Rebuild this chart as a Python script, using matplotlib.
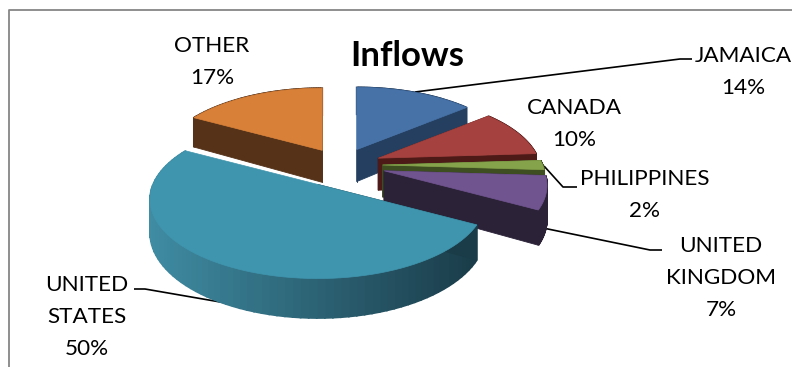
"""Exploded 3D style pie of remittance inflows, drawn by hand since matplotlib has no 3D pie."""

import numpy as np
import matplotlib
matplotlib.use('Agg')
import matplotlib.pyplot as plt
from matplotlib.colors import to_rgb

# data
categories = ['JAMAICA', 'CANADA', 'PHILIPPINES', 'UNITED\nKINGDOM', 'UNITED\nSTATES', 'OTHER']
shares = [14, 10, 2, 7, 50, 17]

# styling, same order as categories
top_colors = ['#4672A8', '#A5423F', '#85A34A', '#70548F', '#3F95AE', '#D98038']
wall_colors = ['#243F60', '#4D1A18', '#3E4E21', '#2B2238', None, '#553218']
explode = [0.23, 0.25, 0.26, 0.28, 0.30, 0.23]
radius_scale = [1.0, 1.0, 1.0, 1.0, 1.03, 1.0]
draw_order = [5, 0, 1, 2, 3, 4]

# pixel layout of the label block: centre x, y of first line
label_pos = [(743, 56), (574, 108), (645, 179), (721, 246), (87, 285), (212, 46)]
leaders = [
    [(692, 59), (680, 59), (415, 92)],
    [(544, 166), (563, 187), (577, 187)],
    [(543, 228), (650, 250), (662, 250)],
    [(134, 289), (145, 289), (226, 303)],
]

CX, CY = 341, 165
RX, RY = 160, 74
PERSP = 0.19
DEPTH = 32
FONT = 'Lato'
LABEL_SIZE = 16.2
LINE_STEP = 32


def project(theta, scale=1.0):
    """Flat pie angle to pixel offset from the slice tip, back of the pie is further away."""
    u, v = np.cos(theta), np.sin(theta)
    s = 1 / (1 + PERSP * v)
    return RX * scale * u * s, -RY * scale * v * s, DEPTH * s


def draw_slice(ax, start, end, color, wall, scale, tip):
    thetas = np.linspace(start, end, 80)
    dx, dy, depth = project(thetas, scale)
    x = tip[0] + dx
    y = tip[1] + dy
    # outer wall in short strips, so the big slice can carry a gradient
    for i in range(len(x) - 1):
        if wall is None:
            t = np.clip((x[i] - 150) / 330, 0, 1)
            c = (1 - t) * np.array(to_rgb('#3F8CA3')) + t * np.array(to_rgb('#1A3B48'))
        else:
            c = wall
        ax.fill([x[i], x[i + 1], x[i + 1], x[i]],
                [y[i], y[i + 1], y[i + 1] + depth[i + 1], y[i] + depth[i]],
                color=c, lw=1.2, zorder=2)
    # cut faces
    cut = wall if wall is not None else '#1A3B48'
    for j in (0, -1):
        if wall is None and j == -1:
            continue  # the hidden cut at the far left would poke out past the rim
        ax.fill([tip[0], x[j], x[j], tip[0]],
                [tip[1], y[j], y[j] + depth[j], tip[1] + DEPTH],
                color=cut, lw=0.6, zorder=2)
    ax.fill(np.r_[tip[0], x], np.r_[tip[1], y], color=color, lw=0.5, zorder=2)


def main():
    fig = plt.figure(figsize=(7.92, 3.67), dpi=100, facecolor='white')
    ax = fig.add_axes([0, 0, 1, 1])
    ax.set_xlim(0, 792)
    ax.set_ylim(367, 0)
    ax.axis('off')

    # chart frame, cut off by the crop on the right and at the bottom
    ax.plot([9, 9, 792], [367, 10, 10], color='#868686', lw=1.3, zorder=1)

    fractions = np.array(shares) / sum(shares)
    edges = np.pi / 2 - 2 * np.pi * np.r_[0, np.cumsum(fractions)]

    for i in draw_order:
        mid = (edges[i] + edges[i + 1]) / 2
        tip = (CX + RX * explode[i] * np.cos(mid), CY - RY * explode[i] * np.sin(mid))
        draw_slice(ax, edges[i], edges[i + 1], top_colors[i], wall_colors[i], radius_scale[i], tip)

    for pts in leaders:
        xs, ys = zip(*pts)
        ax.plot(xs, ys, color='black', lw=1.2, zorder=1, solid_capstyle='butt')

    for name, share, (lx, ly) in zip(categories, shares, label_pos):
        lines = name.split('\n') + [f'{share}%']
        for n, line in enumerate(lines):
            ax.text(lx, ly + n * LINE_STEP, line, ha='center', va='center',
                    fontsize=LABEL_SIZE, family=FONT, color='black', zorder=4)

    ax.text(407, 56, 'Inflows', ha='center', va='center', fontsize=25,
            fontweight='bold', family=FONT, color='black', zorder=4)

    fig.savefig('out.png', dpi=100, facecolor='white')


if __name__ == '__main__':
    main()
